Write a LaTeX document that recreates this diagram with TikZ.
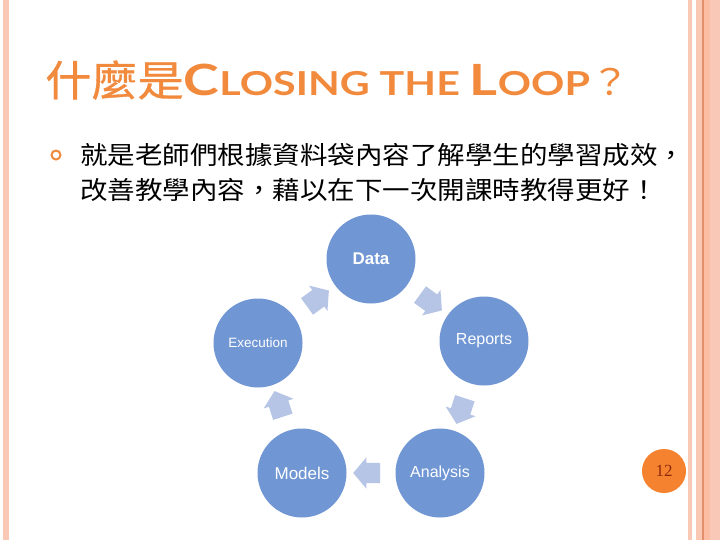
\documentclass[tikz,border=0pt]{standalone}
\usepackage{fontspec}
\setmainfont{Liberation Sans}
\newfontfamily\cjkfont[FakeStretch=1.1]{Noto Sans CJK TC}
\newfontfamily\cjktitle[FakeStretch=1.1, FakeBold=0.8]{Noto Sans CJK TC}
\newfontfamily\titlefont[FakeStretch=1.25]{Lato}
\newfontfamily\numfont{Liberation Serif}
\usetikzlibrary{shapes.arrows,calc}
\definecolor{titleorange}{HTML}{F28A3E}
\definecolor{stageblue}{HTML}{7096D4}
\definecolor{flowblue}{HTML}{B6C5E6}
\definecolor{barpink}{HTML}{F9C9B6}
\definecolor{barpeach}{HTML}{FBBEA4}
\definecolor{barline}{HTML}{E3906A}
\definecolor{pageorange}{HTML}{F5822F}
\definecolor{pagered}{HTML}{8E2A0C}
\begin{document}
\begin{tikzpicture}[
x=1pt, y=-1pt,
stage/.style={circle, fill=stageblue, minimum size=89pt, inner sep=0pt, text=white},
flow/.style={single arrow, fill=flowblue, minimum height=27pt, inner xsep=0pt, inner ysep=10pt,
  single arrow head extend=5.5pt, single arrow tip angle=100}
]
\useasboundingbox[fill=white] (0,0) rectangle (720,540);
% side bars
\fill[barpink] (3,0) rectangle (9,540);
\fill[barpink] (688,0) rectangle (692,540);
\fill[barpink] (696,0) rectangle (702,540);
\fill[barline] (702,0) rectangle (703.5,540);
\fill[barpeach] (703.5,0) rectangle (710,540);
\fill[barpink!85!pink] (710,0) rectangle (720,540);
% title and bullet
\node[anchor=base west, inner sep=0pt, text=titleorange] (title) at (45,96)
  {\cjktitle\fontsize{42}{42}\selectfont 什麼是\titlefont\bfseries\fontsize{43}{43}\selectfont C\fontsize{33}{33}\selectfont LOSING THE \fontsize{43}{43}\selectfont L\fontsize{33}{33}\selectfont OOP\cjkfont\mdseries\fontsize{36}{36}\selectfont ？};
\draw[titleorange, line width=2pt] (56,155) circle (4.5);
\node[anchor=base west, inner sep=0pt] (line1) at (80,164.5)
  {\cjkfont\fontsize{25}{25}\selectfont 就是老師們根據資料袋內容了解學生的學習成效，};
\node[anchor=base west, inner sep=0pt] (line2) at (80,199.5)
  {\cjkfont\fontsize{25}{25}\selectfont 改善教學內容，藉以在下一次開課時教得更好！};
% cycle
\node[stage, font=\bfseries\fontsize{17}{17}\selectfont] (data) at (371,259) {Data};
\node[stage, font=\fontsize{16}{16}\selectfont] (reports) at (484,341) {Reports};
\node[stage, font=\fontsize{16}{16}\selectfont] (analysis) at (440,473) {Analysis};
\node[stage, font=\fontsize{17}{17}\selectfont] (models) at (302,473) {Models};
\node[stage, font=\fontsize{13.5}{13.5}\selectfont] (execution) at (258,343) {Execution};
\node[flow, rotate=-36] (f1) at ($(data)!0.5!(reports)$) {};
\node[flow, rotate=-108] (f2) at ($(reports)!0.5!(analysis)$) {};
\node[flow, rotate=180] (f3) at ($(analysis)!0.5!(models)$) {};
\node[flow, rotate=108] (f4) at ($(models)!0.5!(execution)$) {};
\node[flow, rotate=36] (f5) at ($(execution)!0.5!(data)$) {};
% page number
\node[circle, fill=pageorange, minimum size=44pt, inner sep=0pt, text=pagered,
  font=\numfont\fontsize{17}{17}\selectfont] (page) at (664,471) {12};
\end{tikzpicture}
\end{document}
